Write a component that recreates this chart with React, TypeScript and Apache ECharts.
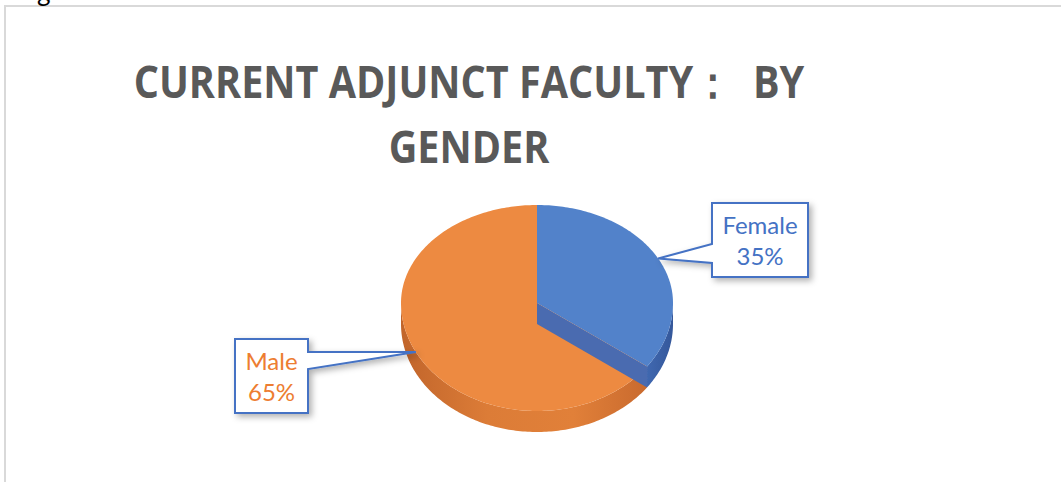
import React, { useEffect, useRef } from "react";
import * as echarts from "echarts";

// ---- data ----
const categories: string[] = ["Female", "Male"];
const values: number[] = [35, 65];
const titleLines: string[] = ["CURRENT ADJUNCT FACULTY：  BY", "GENDER"];

// ---- styles / layout ----
const TOP_COLORS = ["#5282CA", "#ED8A41"];
const LABEL_COLORS = ["#4472C4", "#ED7D31"];
const CUT_COLOR = "#4A6BB0";
const CX = 537, CY = 303, RX = 136, RY_TOP = 98, RY_BOT = 108, DEPTH = 21;
const BOXES = [
  { l: 712, t: 203, r: 808, b: 277, side: "left", n1: 244, n2: 263 },
  { l: 235, t: 339, r: 308, b: 413, side: "right", n1: 352, n2: 369 },
];

const total = values.reduce((a, b) => a + b, 0);
const startAngles: number[] = [];
const endAngles: number[] = [];
{
  let acc = 0;
  values.forEach((v) => {
    startAngles.push((acc / total) * 360);
    acc += v;
    endAngles.push((acc / total) * 360);
  });
}

function pt(deg: number, dy = 0, k = 1): number[] {
  const r = (deg * Math.PI) / 180;
  const s = Math.sin(r), c = Math.cos(r);
  const ry = c > 0 ? RY_TOP : RY_BOT;
  return [CX + RX * s * k, CY - ry * c * k + dy];
}
function arcPts(a1: number, a2: number, dy = 0): number[][] {
  const pts: number[][] = [];
  const n = Math.max(2, Math.ceil(a2 - a1));
  for (let j = 0; j <= n; j++) pts.push(pt(a1 + ((a2 - a1) * j) / n, dy));
  return pts;
}

function sideFill(i: number) {
  if (i === 0)
    return new echarts.graphic.LinearGradient(0, 0, 1, 0, [
      { offset: 0, color: "#4068B0" },
      { offset: 1, color: "#34579A" },
    ]);
  return new echarts.graphic.LinearGradient(0, 0, 1, 0, [
    { offset: 0, color: "#C1652B" },
    { offset: 0.35, color: "#DC7C37" },
    { offset: 0.7, color: "#E18039" },
    { offset: 1, color: "#C96A2E" },
  ]);
}

export default function App() {
  const ref = useRef<HTMLDivElement>(null);
  useEffect(() => {
    document.body.style.margin = "0";
    const chart = echarts.init(ref.current!, null, { renderer: "svg" });
    chart.setOption({
      animation: false,
      backgroundColor: "#ffffff",
      graphic: [
        {
          type: "rect",
          shape: { x: 5, y: 6, width: 1200, height: 700 },
          style: { fill: "none", stroke: "#D9D9D9", lineWidth: 2 },
          silent: true,
        },
        {
          type: "text",
          x: 37,
          y: -9,
          style: {
            text: "g",
            font: '26px Lato',
            fill: "#000",
            textAlign: "left",
            align: "left",
            textVerticalAlign: "middle",
            verticalAlign: "middle",
          },
        },
        ...titleLines.map((t, k) => ({
          type: "text",
          x: 469,
          y: k === 0 ? 80 : 145,
          scaleX: 0.88,
          style: {
            text: t,
            font: 'bold 45px "Open Sans"',
            fill: "#595959",
            textAlign: "center",
            align: "center",
            textVerticalAlign: "middle",
            verticalAlign: "middle",
          },
        })),
      ],
      series: [
        {
          type: "custom",
          coordinateSystem: "none",
          silent: true,
          data: values.map((v) => [v]),
          renderItem: (params: any, api: any) => {
            const i = params.dataIndex;
            const v = api.value(0);
            const a1 = startAngles[i], a2 = endAngles[i];
            const children: any[] = [];
            const lo = Math.max(a1, 90), hi = Math.min(a2, 270);
            if (hi > lo) {
              const top = arcPts(lo, hi, 0);
              const bot = arcPts(lo, hi, DEPTH).reverse();
              children.push({
                type: "polygon",
                z2: 1,
                shape: { points: top.concat(bot) },
                style: { fill: sideFill(i) },
              });
            }
            children.push({
              type: "polygon",
              z2: 2,
              shape: { points: [[CX, CY], ...arcPts(a1, a2, 0)] },
              style: { fill: TOP_COLORS[i] },
            });
            if (a2 > 90 && a2 < 180) {
              const rimT = pt(a2, 0), rimB = pt(a2, DEPTH);
              children.push({
                type: "polygon",
                z2: 3,
                shape: { points: [[CX, CY], rimT, rimB, [CX, CY + DEPTH]] },
                style: { fill: CUT_COLOR },
              });
            }
            // callout
            const mid = (a1 + a2) / 2;
            const tip = pt(mid, 0);
            const bx = BOXES[i];
            const pts =
              bx.side === "left"
                ? [[bx.l, bx.t], [bx.r, bx.t], [bx.r, bx.b], [bx.l, bx.b], [bx.l, bx.n2], tip, [bx.l, bx.n1]]
                : [[bx.l, bx.t], [bx.r, bx.t], [bx.r, bx.n1], tip, [bx.r, bx.n2], [bx.r, bx.b], [bx.l, bx.b]];
            children.push({
              type: "polygon",
              z2: 4,
              shape: { points: pts },
              style: {
                fill: "#FFFFFF",
                stroke: "#4472C4",
                lineWidth: 2,
                shadowBlur: 6,
                shadowOffsetX: 3,
                shadowOffsetY: 3,
                shadowColor: "rgba(0,0,0,0.3)",
              },
            });
            const pct = Math.round((v / total) * 100) + "%";
            children.push({
              type: "text",
              z2: 5,
              x: (bx.l + bx.r) / 2,
              y: (bx.t + bx.b) / 2,
              style: {
                text: categories[i] + "\n" + pct,
                font: "24px Lato",
                lineHeight: 31,
                fill: LABEL_COLORS[i],
                textAlign: "center",
                align: "center",
                textVerticalAlign: "middle",
                verticalAlign: "middle",
              },
            });
            return { type: "group", children };
          },
        },
      ],
    });
    return () => chart.dispose();
  }, []);
  return (
    <div
      ref={ref}
      style={{ position: "fixed", left: 0, top: 0, width: 1061, height: 482, background: "#fff" }}
    />
  );
}
